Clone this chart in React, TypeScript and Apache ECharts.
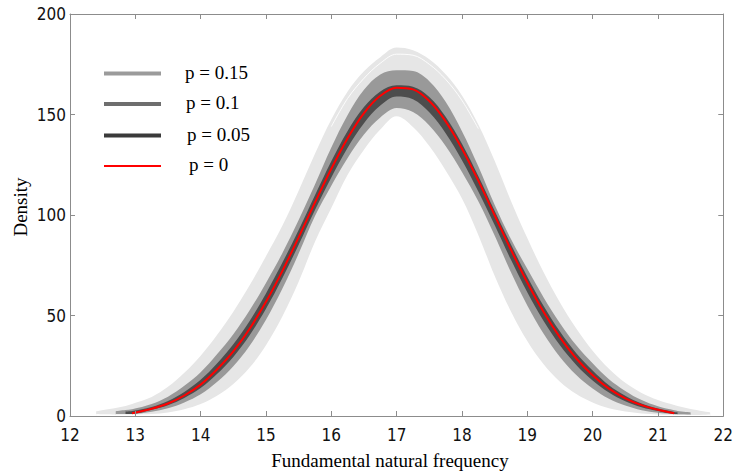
import React, { useEffect, useRef } from "react";
import * as echarts from "echarts";

// Frequency grid (x) shared by all curves
const X = [12.4, 12.7, 12.85, 12.95, 13.25, 13.5, 13.75, 14, 14.25, 14.5, 14.75, 15, 15.25, 15.5, 15.75, 16, 16.25, 16.5, 16.75, 17, 17.25, 17.5, 17.75, 18, 18.25, 18.5, 18.75, 19, 19.25, 19.5, 19.75, 20, 20.25, 20.5, 20.75, 21, 21.25, 21.3, 21.5, 21.8];

// p = 0.15 band (upper / lower envelope)
const lightHigh = [2.4, 4.0, 5.0, 6.0, 9.5, 14.5, 21.5, 30.0, 40.3, 51.9, 65.1, 79.5, 94.6, 112.1, 130.5, 147.5, 161.5, 171.5, 178.5, 183.3, 182.0, 177.5, 170.0, 159.5, 145.0, 127.0, 107.0, 88.5, 71.5, 56.5, 43.5, 32.5, 23.5, 16.5, 11.5, 8.0, 5.5, 5.0, 3.5, 1.8];
const lightLow = [1.0, 0.8, 0.8, 0.8, 1.0, 1.8, 3.4, 6.0, 10.1, 15.9, 24.1, 35.2, 49.5, 66.8, 86.7, 103.5, 120.0, 132.5, 142.5, 149.1, 143.8, 134.3, 122.2, 108.2, 90.1, 69.8, 52.0, 37.3, 25.7, 17.1, 10.9, 6.7, 3.8, 2.2, 1.3, 0.8, 0.6, 0.6, 0.5, 0.8];
// thin gap between the outermost p = 0.15 curve and the rest of its band
const lightGap = [null, null, null, null, null, null, null, null, null, null, null, null, null, null, null, 144.0, 158.0, 168.0, 175.5, 180.0, 179.5, 175.0, 167.5, 157.0, 143.0, null, null, null, null, null, null, null, null, null, null, null, null, null, null, null];

// p = 0.1 band
const midHigh = [null, 2.4, 3.0, 3.4, 6.0, 9.6, 15.0, 21.8, 30.7, 40.7, 52.6, 66.2, 81.0, 97.5, 115.2, 133.6, 149.8, 162.3, 169.9, 172.0, 171.6, 166.6, 156.3, 141.7, 124.2, 105.1, 88.0, 73.2, 59.0, 46.2, 35.2, 26.2, 18.3, 12.5, 7.9, 4.8, 2.8, 2.5, 1.8, null];
const midLow = [null, 1.0, 1.0, 1.0, 2.1, 3.8, 6.7, 10.8, 16.9, 24.8, 35.0, 47.9, 63.3, 80.8, 99.5, 114.6, 128.4, 140.0, 148.5, 153.2, 151.2, 144.5, 134.3, 121.4, 106.8, 89.8, 71.5, 55.0, 40.9, 29.4, 20.4, 13.7, 8.6, 5.2, 2.9, 1.6, 0.9, 0.8, 0.8, null];

// p = 0.05 band
const darkHigh = [null, null, 2.2, 2.5, 4.5, 7.5, 12.0, 18.0, 26.1, 35.7, 47.3, 61.0, 76.2, 92.5, 109.8, 126.7, 141.8, 153.7, 161.5, 164.5, 163.8, 158.7, 148.9, 135.5, 119.4, 102.1, 85.3, 69.3, 54.7, 42.0, 31.2, 22.6, 15.3, 10.1, 6.2, 3.7, 2.0, 1.8, null, null];
const darkLow = [null, null, 1.0, 1.0, 3.1, 5.4, 9.0, 13.9, 20.9, 29.4, 40.2, 53.3, 68.5, 85.2, 102.5, 118.7, 133.5, 145.7, 154.5, 159.0, 157.6, 151.1, 140.7, 127.2, 111.7, 95.0, 77.7, 61.6, 47.3, 35.2, 25.4, 17.7, 11.7, 7.4, 4.4, 2.5, 1.0, 1.0, null, null];

// p = 0 curve
const redCurve = [null, null, null, 1.4, 3.6, 6.2, 10.2, 15.6, 23.1, 32.1, 43.4, 56.8, 72.1, 88.9, 106.2, 123.0, 138.2, 150.7, 159.3, 163.3, 162.5, 156.7, 146.6, 133.0, 117.1, 99.9, 82.7, 66.4, 51.7, 39.1, 28.6, 20.3, 13.6, 8.8, 5.4, 3.1, 1.4, null, null, null];

const xTicks = [12, 13, 14, 15, 16, 17, 18, 19, 20, 21, 22];
const yTicks = [0, 50, 100, 150, 200];

const legendLabels = ["p = 0.15", "p = 0.1", "p = 0.05", "p = 0"];
const legendColors = ["#9b9b9b", "#6e6e6e", "#3a3a3a", "#ff0000"];

const LIGHT = "#e6e6e6";
const MID = "#999999";
const DARK = "#4d4d4d";

const pairs = (vals: (number | null)[]) =>
  X.map((x, i) => (vals[i] == null ? null : [x, vals[i] as number])).filter(Boolean);

const fillSeries = (vals: (number | null)[], color: string) => ({
  type: "line",
  data: pairs(vals),
  symbol: "none",
  smooth: 0.35,
  silent: true,
  lineStyle: { width: 0, opacity: 0 },
  areaStyle: { color, opacity: 1, origin: "start" },
});

const SERIF = "'Liberation Serif', 'Times New Roman', serif";
const SANS = "'Liberation Sans Narrow', 'DejaVu Sans Condensed', 'Liberation Sans', sans-serif";

export default function App() {
  const ref = useRef<HTMLDivElement>(null);
  useEffect(() => {
    const chart = echarts.init(ref.current!, null, { renderer: "svg" });
    const axisColor = "#8c8c8c";
    const legendY = [73.5, 104, 135.5, 166];
    const legendTextX = [185, 186, 187, 189];
    const legendWidths = [4, 4, 4, 2];
    const tickLabel = { show: true, color: "#111", fontSize: 17, lineHeight: 13, fontFamily: SANS };
    chart.setOption({
      animation: false,
      backgroundColor: "#ffffff",
      grid: { left: 70, right: 8, top: 14, bottom: 58, containLabel: false },
      xAxis: [
        {
          type: "value",
          min: xTicks[0],
          max: xTicks[xTicks.length - 1],
          interval: 1,
          z: 5,
          axisLine: { show: true, onZero: false, lineStyle: { color: axisColor, width: 1 } },
          axisTick: { show: true, inside: true, length: 5, lineStyle: { color: axisColor } },
          axisLabel: { ...tickLabel, margin: 12 },
          splitLine: { show: false },
        },
        {
          type: "value",
          position: "top",
          min: xTicks[0],
          max: xTicks[xTicks.length - 1],
          interval: 1,
          z: 5,
          axisLine: { show: true, onZero: false, lineStyle: { color: axisColor, width: 1 } },
          axisTick: { show: true, inside: true, length: 5, lineStyle: { color: axisColor } },
          axisLabel: { show: false },
          splitLine: { show: false },
        },
      ],
      yAxis: [
        {
          type: "value",
          min: yTicks[0],
          max: yTicks[yTicks.length - 1],
          interval: 50,
          z: 5,
          axisLine: { show: true, onZero: false, lineStyle: { color: axisColor, width: 1 } },
          axisTick: { show: true, inside: true, length: 5, lineStyle: { color: axisColor } },
          axisLabel: { ...tickLabel, margin: 4 },
          splitLine: { show: false },
        },
        {
          type: "value",
          position: "right",
          min: yTicks[0],
          max: yTicks[yTicks.length - 1],
          interval: 50,
          z: 5,
          axisLine: { show: true, onZero: false, lineStyle: { color: axisColor, width: 1 } },
          axisTick: { show: true, inside: true, length: 5, lineStyle: { color: axisColor } },
          axisLabel: { show: false },
          splitLine: { show: false },
        },
      ],
      series: [
        fillSeries(lightHigh, LIGHT),
        {
          type: "line",
          data: pairs(lightGap),
          symbol: "none",
          smooth: 0.35,
          silent: true,
          lineStyle: { color: "#ffffff", width: 1, opacity: 0.9 },
        },
        fillSeries(midHigh, MID),
        fillSeries(darkHigh, DARK),
        fillSeries(darkLow, MID),
        fillSeries(midLow, LIGHT),
        fillSeries(lightLow, "#ffffff"),
        {
          type: "line",
          data: pairs(redCurve),
          symbol: "none",
          smooth: 0.35,
          silent: true,
          lineStyle: { color: "#ff0000", width: 2 },
        },
      ],
      graphic: [
        ...legendLabels.map((_, i) => ({
          type: "line",
          shape: { x1: 104, y1: legendY[i], x2: 161, y2: legendY[i] },
          style: { stroke: legendColors[i], lineWidth: legendWidths[i] },
          z: 10,
        })),
        ...legendLabels.map((label, i) => ({
          type: "text",
          x: legendTextX[i],
          y: legendY[i] - 1.5,
          style: {
            text: label,
            font: `19px ${SERIF}`,
            fill: "#000",
            textAlign: "left",
            textVerticalAlign: "middle",
            align: "left",
            verticalAlign: "middle",
          },
          z: 10,
        })),
        {
          type: "text",
          x: 390,
          y: 460,
          style: {
            text: "Fundamental natural frequency",
            font: `19px ${SERIF}`,
            fill: "#000",
            textAlign: "center",
            textVerticalAlign: "middle",
            align: "center",
            verticalAlign: "middle",
          },
        },
        {
          type: "text",
          x: 20,
          y: 207,
          rotation: Math.PI / 2,
          style: {
            text: "Density",
            font: `19px ${SERIF}`,
            fill: "#000",
            textAlign: "center",
            textVerticalAlign: "middle",
            align: "center",
            verticalAlign: "middle",
          },
        },
      ],
    });
    return () => chart.dispose();
  }, []);
  return (
    <div
      ref={ref}
      style={{ position: "absolute", left: 0, top: 0, width: 736, height: 474 }}
    />
  );
}
